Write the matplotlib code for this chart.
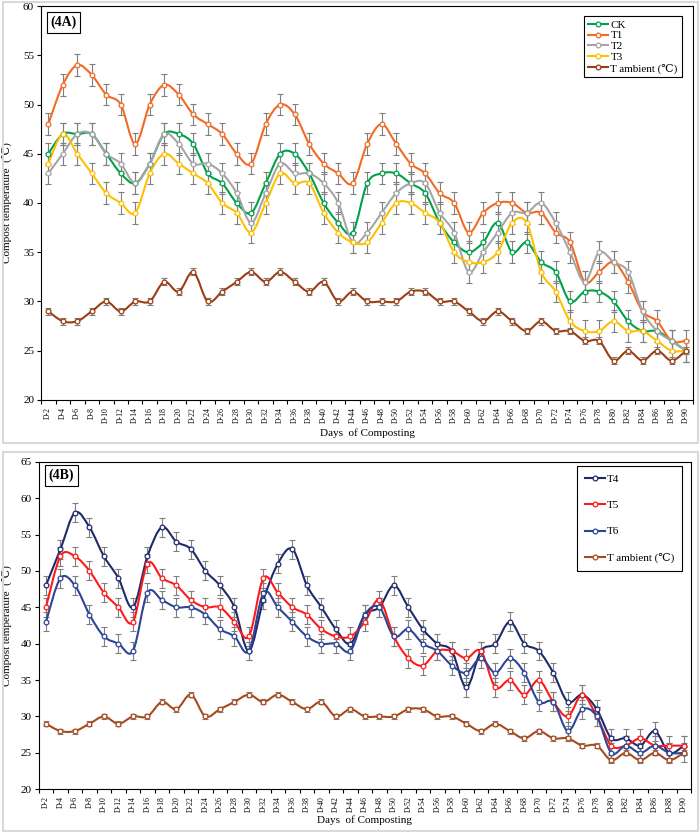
import matplotlib.pyplot as plt
import numpy as np
from matplotlib.path import Path
from matplotlib.patches import PathPatch, Rectangle
from matplotlib.lines import Line2D

plt.rcParams['font.family'] = ['Liberation Serif', 'DejaVu Serif']

days = ['D-%d' % d for d in range(2, 92, 2)]

# panel 4A
ck = [45, 47, 47, 47, 45, 43, 42, 44, 47, 47, 46, 43, 42, 40, 39, 42, 45, 45, 43, 40, 38, 37,
      42, 43, 43, 42, 41, 38, 36, 35, 36, 38, 35, 36, 34, 33, 30, 31, 31, 30, 28, 27, 27, 26, 25]
t1 = [48, 52, 54, 53, 51, 50, 46, 50, 52, 51, 49, 48, 47, 45, 44, 48, 50, 49, 46, 44, 43, 42,
      46, 48, 46, 44, 43, 41, 40, 37, 39, 40, 40, 39, 39, 37, 36, 32, 33, 34, 32, 29, 28, 26, 26]
t2 = [43, 45, 47, 47, 45, 44, 42, 44, 47, 46, 44, 44, 43, 41, 38, 41, 44, 43, 43, 42, 40, 36,
      37, 39, 41, 42, 42, 39, 37, 33, 35, 37, 39, 39, 40, 38, 35, 32, 35, 34, 33, 29, 27, 26, 25]
t3 = [44, 47, 45, 43, 41, 40, 39, 43, 45, 44, 43, 42, 40, 39, 37, 40, 43, 42, 42, 39, 37, 36,
      36, 38, 40, 40, 39, 38, 35, 34, 34, 35, 38, 38, 33, 31, 28, 27, 27, 28, 27, 27, 26, 25, 25]
ambient = [29, 28, 28, 29, 30, 29, 30, 30, 32, 31, 33, 30, 31, 32, 33, 32, 33, 32, 31, 32, 30, 31,
           30, 30, 30, 31, 31, 30, 30, 29, 28, 29, 28, 27, 28, 27, 27, 26, 26, 24, 25, 24, 25, 24, 25]

# panel 4B
t4 = [48, 53, 58, 56, 52, 49, 45, 52, 56, 54, 53, 50, 48, 45, 39, 46, 51, 53, 48, 45, 42, 40,
      44, 45, 48, 45, 42, 40, 39, 34, 39, 40, 43, 40, 39, 36, 32, 33, 31, 27, 27, 26, 28, 25, 26]
t5 = [45, 52, 52, 50, 47, 45, 43, 51, 49, 48, 46, 45, 45, 43, 41, 49, 47, 45, 44, 42, 41, 41,
      43, 46, 41, 38, 37, 39, 39, 38, 39, 34, 35, 33, 35, 32, 30, 33, 30, 26, 26, 27, 26, 26, 26]
t6 = [43, 49, 48, 44, 41, 40, 39, 47, 46, 45, 45, 44, 42, 41, 39, 47, 45, 43, 41, 40, 40, 39,
      44, 45, 41, 42, 40, 39, 37, 36, 38, 36, 38, 36, 32, 32, 28, 31, 30, 25, 26, 25, 26, 25, 25]

err_a = 1.1
err_b = 1.3
err_amb = 0.35


def smooth_path(x, y):
    # Excel-like smoothed line: cubic bezier through every point
    pts = np.column_stack([x, y]).astype(float)
    n = len(pts)
    verts = [pts[0]]
    codes = [Path.MOVETO]
    for i in range(n - 1):
        p0 = pts[i - 1] if i > 0 else pts[i]
        p1 = pts[i]
        p2 = pts[i + 1]
        p3 = pts[i + 2] if i + 2 < n else pts[i + 1]
        verts += [p1 + (p2 - p0) / 6, p2 - (p3 - p1) / 6, p2]
        codes += [Path.CURVE4] * 3
    return Path(verts, codes)


def draw(ax, y, err, color, label):
    x = np.arange(len(y))
    ax.errorbar(x, y, yerr=err, fmt='none', ecolor='#7f7f7f', elinewidth=0.8,
                capsize=2.2, capthick=0.8, zorder=2)
    ax.add_patch(PathPatch(smooth_path(x, y), fill=False, edgecolor=color, lw=1.5, zorder=3))
    ax.plot(x, y, 'o', ms=3.4, mfc='white', mec=color, mew=0.9, zorder=4)
    return Line2D([], [], color=color, lw=1.5, marker='o', ms=3.4, mfc='white',
                  mec=color, mew=0.9, label=label)


def setup(ax, ymax, ylab_x, tag):
    ax.set_xlim(-0.5, len(days) - 0.5)
    ax.set_ylim(20, ymax)
    ax.set_yticks(range(20, ymax + 1, 5))
    ax.set_xticks(np.arange(len(days)))
    ax.set_xticklabels(days, rotation=90, fontsize=5.6)
    ax.set_xticks(np.arange(-0.5, len(days), 1), minor=True)
    ax.tick_params(axis='x', which='major', length=0, pad=5)
    ax.tick_params(axis='x', which='minor', length=3, width=0.8)
    ax.tick_params(axis='y', length=3, width=0.8, labelsize=8, pad=2)
    for s in ax.spines.values():
        s.set_linewidth(0.8)
    ax.set_ylabel('Compost temperature  (℃)', fontsize=8)
    ax.yaxis.set_label_coords(ylab_x, 0.5)
    ax.set_xlabel('Days  of Composting', fontsize=8)
    ax.text(0.035, 0.958, tag, transform=ax.transAxes, fontsize=10, fontweight='bold',
            ha='center', va='center',
            bbox=dict(boxstyle='square,pad=0.25', fc='white', ec='black', lw=0.8))


fig = plt.figure(figsize=(7, 8.34), dpi=100)
fig.add_artist(Rectangle((3 / 700, 391 / 834), 695 / 700, 441 / 834, transform=fig.transFigure,
                         fill=False, ec='#d9d9d9', lw=1.5))
fig.add_artist(Rectangle((3 / 700, 3 / 834), 695 / 700, 379 / 834, transform=fig.transFigure,
                         fill=False, ec='#d9d9d9', lw=1.5))

ax1 = fig.add_axes([0.0586, 0.5204, 0.9319, 0.4724])
h = [draw(ax1, ck, err_a, '#00a14b', 'CK'),
     draw(ax1, t1, err_a, '#f26a24', 'T1'),
     draw(ax1, t2, err_a, '#a5a5a5', 'T2'),
     draw(ax1, t3, err_a, '#ffc000', 'T3'),
     draw(ax1, ambient, err_amb, '#9c3d12', 'T ambient (℃)')]
setup(ax1, 60, -0.045, '(4A)')
ax1.xaxis.set_label_coords(0.5, -0.071)
leg = ax1.legend(handles=h, loc='upper right', bbox_to_anchor=(0.982, 0.975), fontsize=8,
                 fancybox=False, edgecolor='black', framealpha=1, handlelength=1.8,
                 handletextpad=0.2, labelspacing=0.1, borderpad=0.35, borderaxespad=0)
leg.get_frame().set_linewidth(0.8)

ax2 = fig.add_axes([0.0553, 0.0536, 0.9319, 0.3928])
h = [draw(ax2, t4, err_b, '#1f2a6b', 'T4'),
     draw(ax2, t5, err_b, '#ff1a1a', 'T5'),
     draw(ax2, t6, err_b, '#2c4596', 'T6'),
     draw(ax2, ambient, err_amb, '#a8491c', 'T ambient (℃)')]
setup(ax2, 65, -0.041, '(4B)')
ax2.xaxis.set_label_coords(0.5, -0.079)
leg = ax2.legend(handles=h, loc='upper right', bbox_to_anchor=(0.986, 0.987), fontsize=8,
                 fancybox=False, edgecolor='black', framealpha=1, handlelength=1.8,
                 handletextpad=0.2, labelspacing=1.5, borderpad=0.7, borderaxespad=0)
leg.get_frame().set_linewidth(0.8)

fig.savefig('out.png', dpi=100)
